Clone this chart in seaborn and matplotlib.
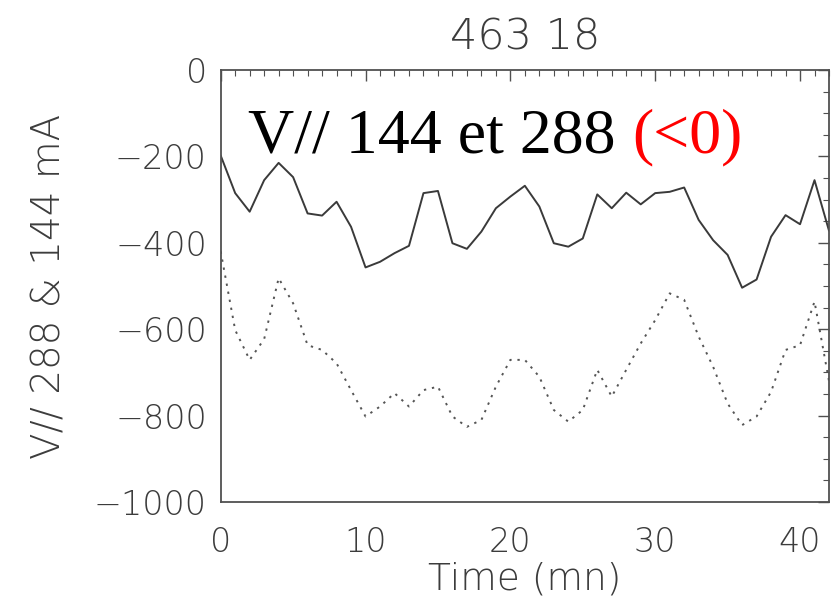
import matplotlib
matplotlib.use("Agg")
import matplotlib.pyplot as plt
import numpy as np
import pandas as pd
import seaborn as sns
from matplotlib.ticker import MultipleLocator

# ---- data ----
time_mn = list(range(43))
current_288 = [-198, -285, -328, -255, -215, -248, -332, -337, -305, -363,
               -457, -444, -424, -407, -285, -280, -401, -414, -374, -320,
               -293, -268, -316, -401, -409, -390, -288, -320, -284, -311,
               -285, -282, -272, -347, -394, -428, -504, -485, -386, -336,
               -357, -255, -372]
current_144 = [-420, -602, -671, -623, -482, -540, -637, -648, -679, -741,
               -802, -779, -748, -779, -741, -733, -802, -826, -810, -733,
               -671, -671, -710, -787, -814, -787, -694, -756, -694, -633,
               -579, -517, -532, -617, -687, -772, -822, -802, -745, -648,
               -637, -536, -720]
x_ticks = [0, 10, 20, 30, 40]
y_ticks = [0, -200, -400, -600, -800, -1000]
title_text = "463 18"
x_label = "Time (mn)"
y_label = "V// 288 & 144 mA"
note_black = "V// 144 et 288"
note_red = "(<0)"

df = pd.DataFrame({"time": time_mn * 2,
                   "value": current_288 + current_144,
                   "series": ["288"] * len(time_mn) + ["144"] * len(time_mn)})

sns.set_style("white")
plt.rcParams["font.family"] = ["DejaVu Sans"]
plt.rcParams["font.weight"] = "light"

fig = plt.figure(figsize=(8.34, 6.10), dpi=100)
ax = fig.add_axes([220.7 / 834, 1 - 502 / 610, (829 - 220.7) / 834, (502 - 70) / 610])

ink = "#505050"
txt = "#3c3c3c"
sns.lineplot(data=df, x="time", y="value", hue="series", style="series",
             hue_order=["288", "144"], style_order=["288", "144"],
             palette={"288": "#3a3a3a", "144": "#555555"},
             dashes={"288": "", "144": (1.2, 3.0)},
             linewidth=1.4, legend=False, ax=ax)

ax.set_xlim(0, 42)
ax.set_ylim(-1000, 0)
ax.set_xticks(x_ticks)
ax.set_yticks(y_ticks)
ax.xaxis.set_minor_locator(MultipleLocator(1))
ax.yaxis.set_minor_locator(MultipleLocator(50))
ax.tick_params(which="both", direction="in", top=True, right=True,
               colors=ink, labelcolor=txt, labelsize=24)
ax.tick_params(which="major", length=8, width=1.0)
ax.tick_params(axis="x", which="major", pad=17)
ax.tick_params(axis="y", which="major", pad=10)
ax.tick_params(which="minor", length=4, width=0.8)
for s in ax.spines.values():
    s.set_color(ink)
    s.set_linewidth(1.3)

ax.set_title(title_text, fontsize=31, color=txt, pad=15, fontweight="light")
ax.set_xlabel(x_label, fontsize=27, color=txt, labelpad=2, fontweight="light")
ax.set_ylabel(y_label, fontsize=28, color=txt, labelpad=18, fontweight="light")

t1 = ax.text(0.045, 0.808, note_black, transform=ax.transAxes, fontweight="normal",
             fontsize=46, family="Liberation Serif", color="black", va="baseline")
ax.annotate(note_red, xy=(1, 0), xycoords=t1, xytext=(12, 0), fontweight="normal",
            textcoords="offset points", fontsize=46, family="Liberation Serif",
            color="red", va="bottom", ha="left")

fig.savefig("out.png", dpi=100)
